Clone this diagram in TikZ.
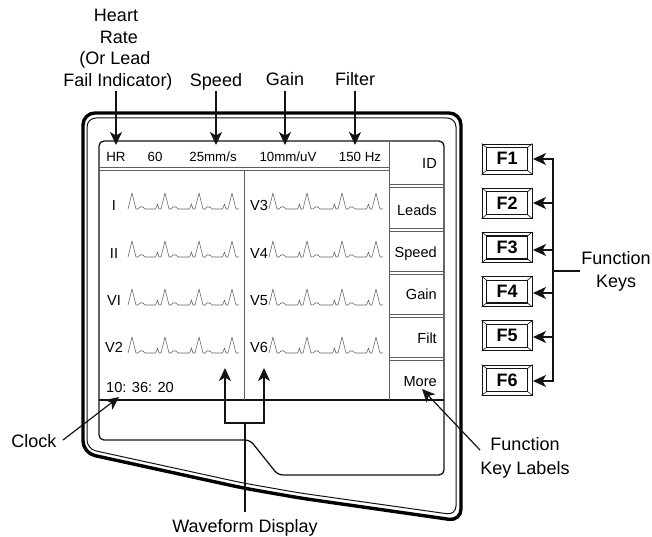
\documentclass[tikz,border=0pt]{standalone}
\usepackage{fontspec}
\setmainfont{Liberation Sans}
\usetikzlibrary{arrows.meta}
\definecolor{ink}{RGB}{20,20,20}
\definecolor{soft}{RGB}{95,95,95}
\tikzset{
  bigtxt/.style={anchor=base,inner sep=0pt,font=\fontsize{18}{22}\selectfont,text=black},
  midtxt/.style={anchor=base,inner sep=0pt,font=\fontsize{14.6}{17}\selectfont,text=black},
  hdrtxt/.style={anchor=base,inner sep=0pt,font=\fontsize{13.3}{16}\selectfont,text=black},
  softkey/.style={anchor=base east,inner sep=0pt,font=\fontsize{14.6}{17}\selectfont,text=black},
  callout/.style={draw=ink,line width=1.2pt,-{Stealth[length=13pt,width=12pt,inset=3.5pt]}},
  plainline/.style={draw=ink,line width=1.2pt},
  keybtn/.style={draw=ink,line width=0.9pt,fill=white,minimum width=50pt,minimum height=30pt,inner sep=0pt},
  trace/.style={draw=soft,line width=0.55pt,line join=round},
  sep/.style={draw=soft,line width=0.9pt}
}
\newcommand{\ecgrow}[5]{% base y, peaks
  \foreach \p/\q in {#2/#3,#3/#4,#4/#5}{
    \draw[trace] (\p-4,#1) -- (\p,#1-16) -- (\p+4,#1) -- (\p+6,#1) -- (\p+8,#1-2) -- (\p+11,#1-2) -- (\p+13,#1) -- (\q-9.5,#1) -- (\q-7.5,#1-5) -- (\q-6,#1) -- (\q-4,#1);
  }
  \draw[trace] (#5-4,#1) -- (#5,#1-16) -- (#5+4,#1) -- (#5+7,#1);
}
\newcommand{\keydeco}[1]{%
  \draw[ink,line width=1.3pt,fill=white] ([shift={(5,4)}]#1.north west) rectangle ([shift={(-5,-4)}]#1.south east);
  \draw[ink,line width=0.6pt] (#1.north west) -- ++(5,4) (#1.north east) -- ++(-5,4) (#1.south west) -- ++(5,-4) (#1.south east) -- ++(-5,-4);
}
\begin{document}
\begin{tikzpicture}[x=1pt,y=-1pt]
\useasboundingbox (0,0) rectangle (652,537);
% housing
\draw[black,line width=3.4pt,rounded corners=12pt] (83,113) -- (461,113) -- (461,521) -- (300,498) -- (243,488) -- (83,453) -- cycle;
\draw[ink,line width=1pt,rounded corners=9pt] (87,118) -- (456,118) -- (456,515) -- (300,493) -- (243,483) -- (87,449) -- cycle;
% screen
\draw[ink,line width=1.3pt,rounded corners=5pt] (99,141) -- (444,141) -- (444,475) -- (278,475) -- (250,440) -- (99,440) -- cycle;
\draw[ink,line width=1.5pt] (99,400) -- (444,400);
\draw[sep] (99,167) -- (389,167) (99,170) -- (389,170);
\draw[sep] (389,141) -- (389,400);
\draw[sep] (244,170) -- (244,400);
\foreach \y in {184,228,271,314,357}{ \draw[sep] (389,\y) -- (444,\y) (389,\y+3) -- (444,\y+3); }
% waveforms
\foreach \b in {209,257,305,353}{
  \ecgrow{\b}{132}{165}{199}{232}
  \ecgrow{\b}{273}{307}{342}{376}
}
% screen text
\node[hdrtxt] (vhr) at (116,162) {HR};
\node[hdrtxt] (vrate) at (155,162) {60};
\node[hdrtxt] (vspeed) at (213,162) {25mm/s};
\node[hdrtxt] (vgain) at (288,162) {10mm/uV};
\node[hdrtxt] (vfilt) at (360,162) {150 Hz};
\node[softkey] (kid) at (437,169) {ID};
\node[softkey] (kleads) at (437,215) {Leads};
\node[softkey] (kspeed) at (437,257) {Speed};
\node[softkey] (kgain) at (437,299) {Gain};
\node[softkey] (kfilt) at (437,343) {Filt};
\node[softkey] (kmore) at (437,386) {More};
\node[midtxt] (li) at (114,211) {I};
\node[midtxt] (lii) at (114,258) {II};
\node[midtxt] (lvi) at (114,305) {VI};
\node[midtxt] (lvii) at (114,352) {V2};
\node[midtxt] (lv3) at (259,211) {V3};
\node[midtxt] (lv4) at (259,258) {V4};
\node[midtxt] (lv5) at (259,305) {V5};
\node[midtxt] (lv6) at (259,352) {V6};
\node[midtxt,anchor=base west] (clock) at (106,392) {10: 36: 20};
% top labels
\node[bigtxt] (l1) at (116,22) {Heart};
\node[bigtxt] (l2) at (119,44) {Rate};
\node[bigtxt] (l3) at (115,65) {(Or Lead};
\node[bigtxt] (lfail) at (118,87) {Fail Indicator)};
\node[bigtxt] (lspeed) at (216,87) {Speed};
\node[bigtxt] (lgain) at (285,86) {Gain};
\node[bigtxt] (lfilter) at (355,86) {Filter};
\coordinate (s1) at (116,91); \coordinate (t1) at (116,145);
\coordinate (s2) at (216,91); \coordinate (t2) at (216,145);
\coordinate (s3) at (285,91); \coordinate (t3) at (285,145);
\coordinate (s4) at (355,91); \coordinate (t4) at (355,145);
\draw[callout] (s1) -- (t1);
\draw[callout] (s2) -- (t2);
\draw[callout] (s3) -- (t3);
\draw[callout] (s4) -- (t4);
% clock
\node[bigtxt] (lclock) at (34,447) {Clock};
\coordinate (cs) at (63,440); \coordinate (ct) at (119,397);
\draw[callout] (cs) -- (ct);
% waveform display
\node[bigtxt] (lwave) at (245,532) {Waveform Display};
\coordinate (ws) at (245,512); \coordinate (wj) at (245,423);
\coordinate (wl) at (225,423); \coordinate (wr) at (264,423);
\coordinate (wlt) at (225,368); \coordinate (wrt) at (264,368);
\draw[plainline] (ws) -- (wj);
\draw[callout] (wj) -- (wl) -- (wlt);
\draw[callout] (wj) -- (wr) -- (wrt);
% function key labels
\node[bigtxt] (lfk1) at (525,450) {Function};
\node[bigtxt] (lfk2) at (525,474) {Key Labels};
\coordinate (fs) at (480,450); \coordinate (ft) at (422,389);
\draw[callout] (fs) -- (ft);
% F keys
\foreach \n/\y in {1/159,2/203.2,3/247.4,4/291.6,5/335.8,6/380}{
  \node[keybtn] (F\n) at (507,\y) {};
  \keydeco{F\n}
  \node[anchor=base,inner sep=0pt,font=\fontsize{18}{20}\bfseries\selectfont,text=black] (FT\n) at (507,\y+6) {F\n};
}
\coordinate (bustop) at (553,159); \coordinate (busbot) at (553,381);
\draw[plainline,line cap=rect] (bustop) -- (busbot);
\foreach \n/\y in {1/159,2/203,3/250,4/293,5/337,6/381}{
  \coordinate (bj\n) at (553,\y); \coordinate (bt\n) at (533,\y);
  \draw[callout] (bj\n) -- (bt\n);
}
\node[bigtxt] (lk1) at (616,264) {Function};
\node[bigtxt] (lk2) at (616,287) {Keys};
\coordinate (kj) at (553,271); \coordinate (ke) at (580,271);
\draw[plainline] (kj) -- (ke);
\end{tikzpicture}
\end{document}
